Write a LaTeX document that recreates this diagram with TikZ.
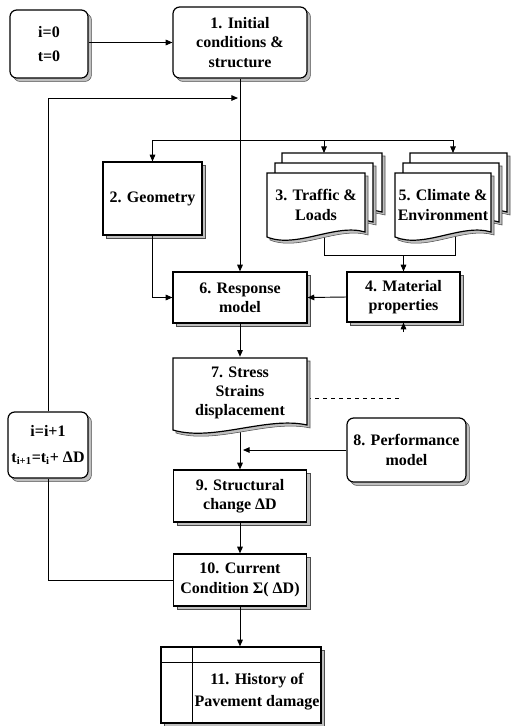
\documentclass[tikz,border=0pt]{standalone}
\usepackage{fontspec}
\setmainfont{Liberation Serif}
\usetikzlibrary{arrows.meta,shadows}
\pgfdeclarelayer{bg}
\pgfsetlayers{bg,main}

\tikzset{
  txt/.style={align=center,inner sep=0pt,font=\bfseries\fontsize{12}{14.5}\selectfont},
  boxline/.style={draw=black,line width=0.9pt},
  boxshadow/.style={drop shadow={shadow xshift=2.6pt,shadow yshift=-2.6pt,
      fill=black!25,draw=black!70,line width=0.4pt,opacity=1}},
  sqbox/.style={txt,boxline,fill=white,boxshadow},
  rbox/.style={sqbox,rounded corners=5pt},
  conn/.style={line width=0.7pt},
  arr/.style={conn,-{Triangle[length=5pt,width=4.2pt]}},
  pageshadow/.style={fill=black!25,draw=black!70,line width=0.4pt},
}

% one page of a document symbol: left, top, right, bottom (wavy lower edge)
\newcommand\docpage[4]{%
  \draw[pageshadow,shift={(3,3)}] (#1,#2) -- (#3,#2) -- (#3,#4-5)
    .. controls ({#3-0.3*(#3-#1)},#4-14) and ({#1+0.3*(#3-#1)},#4+12) .. (#1,#4) -- cycle;
  \draw[boxline,fill=white] (#1,#2) -- (#3,#2) -- (#3,#4-5)
    .. controls ({#3-0.3*(#3-#1)},#4-14) and ({#1+0.3*(#3-#1)},#4+12) .. (#1,#4) -- cycle;
}

\begin{document}
\begin{tikzpicture}[x=0.75pt,y=-0.75pt]
\useasboundingbox (0,0) rectangle (512,726);

% ---- stacked documents: traffic and climate
\docpage{282}{153}{382}{217}
\docpage{275}{163}{373}{227}
\docpage{267}{173}{365}{237}
\docpage{410}{153}{507}{217}
\docpage{403}{163}{499}{227}
\docpage{395}{173}{491}{237}
\node[txt,minimum width=73.5pt,minimum height=48pt] (n3) at (316,205) {3. Traffic \&\\Loads};
\node[txt,minimum width=72pt,minimum height=48pt] (n5) at (443,205) {5. Climate \&\\Environment};

% ---- stress / strain document
\docpage{173}{358}{307}{430}
\node[txt,minimum width=100.5pt,minimum height=54pt] (n7) at (240,393) {7. Stress\\Strains\\displacement};

% ---- boxes
\node[rbox,minimum width=58.5pt,minimum height=51pt,font=\bfseries\fontsize{12}{18}\selectfont] (i0) at (49,44) {i=0\\t=0};
\node[rbox,minimum width=100.5pt,minimum height=53.25pt] (n1) at (240,42.5) {1. Initial\\conditions \&\\structure};
\node[sqbox,minimum width=74.25pt,minimum height=54.75pt] (n2) at (152.5,198.5) {2. Geometry};
\node[sqbox,minimum width=100.5pt,minimum height=38.25pt] (n6) at (240,297.5) {6. Response\\model};
\node[sqbox,minimum width=84.75pt,minimum height=37.5pt] (n4) at (403.5,297) {4. Material\\properties};
\node[rbox,minimum width=89.25pt,minimum height=48pt] (n8) at (406.5,450) {8. Performance\\model};
\node[sqbox,minimum width=99.75pt,minimum height=39pt] (n9) at (240,496) {9. Structural\\change ΔD};
\node[sqbox,minimum width=99.75pt,minimum height=39pt] (n10) at (240,580) {10. Current\\Condition Σ( ΔD)};
\node[rbox,minimum width=60pt,minimum height=49.5pt,font=\bfseries\fontsize{12}{19.5}\selectfont] (ii) at (48,445)
  {i=i+1\\t\textsubscript{i+1}=t\textsubscript{i}+ ΔD};
\node[sqbox,minimum width=120pt,minimum height=57pt] (n11) at (241,685) {};
\draw[conn] (161,662) -- (321,662);
\draw[conn] (192,647) -- (192,723);
\node[txt,font=\bfseries\fontsize{12}{16.5}\selectfont] (n11t) at (257,692) {11. History of\\Pavement damage};

% ---- junction points
\coordinate (br) at (240,140);
\coordinate (t3top) at (324,153);
\coordinate (c5top) at (453,153);
\coordinate (t3b) at (324,225);
\coordinate (c5b) at (455,225);
\coordinate (jl) at (324,255);
\coordinate (jr) at (455,255);
\coordinate (loopend) at (238,98);
\coordinate (p8) at (243,450);
\coordinate (dashend) at (403,398);
\coordinate (stub) at (403.5,332);

% ---- connectors
\draw[arr] (i0.east |- n1.west) -- (n1.west);
\draw[arr] (n1.south) -- (n6.north);
\draw[arr] (br) -| (n2.north);
\draw[arr] (br) -| (t3top);
\draw[arr] (br) -| (c5top);
\draw[arr] (n2.south) |- (n6.west);
\begin{pgfonlayer}{bg}
  \draw[conn] (t3b) -- (jl) -- (jr) -- (c5b);
  \draw[arr] (n7.center) -- (n9.north);
  \draw[conn,dashed] (n7.east |- dashend) -- (dashend);
\end{pgfonlayer}
\draw[arr] (n4.north |- jl) -- (n4.north);
\draw[arr] (n4.west) -- (n6.east);
\draw[arr] (stub) -- (n4.south);
\draw[arr] (n6.south) -- (n7.north);
\draw[arr] (n8.west) -- (p8);
\draw[arr] (n9.south) -- (n10.north);
\draw[arr] (n10.south) -- (n10.south |- n11.north);
\draw[conn] (n10.west) -| (ii.south);
\draw[arr] (ii.north) |- (loopend);
\end{tikzpicture}
\end{document}
